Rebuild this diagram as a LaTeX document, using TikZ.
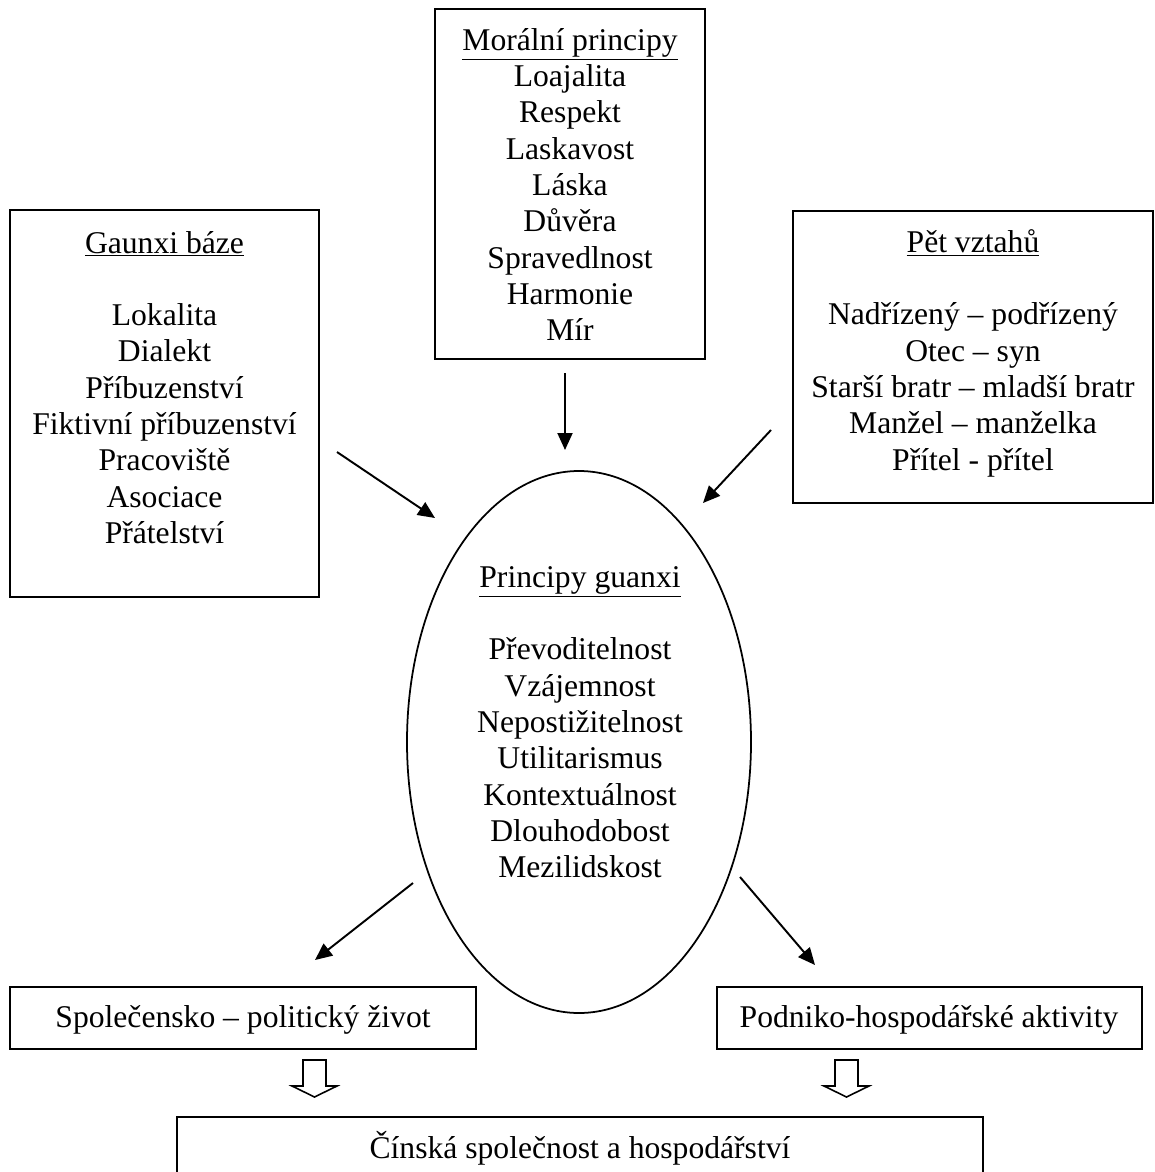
\documentclass[tikz,border=0pt]{standalone}
\usepackage{fontspec}
\setmainfont{Liberation Serif}
\usetikzlibrary{shapes.geometric, arrows.meta, positioning, fit}

\begin{document}
\begin{tikzpicture}[x=0.2mm, y=-0.2mm,
    box/.style={draw, line width=1.1pt, inner sep=0pt},
    txt/.style={font=\fontsize{18}{20.65}\selectfont, align=center, inner sep=0pt},
    link/.style={line width=1.1pt, -{Triangle[length=3.4mm, width=3mm]}},
    hollow/.style={draw, line width=0.9pt, line join=miter, fill=white}]

    \useasboundingbox (0,0) rectangle (1155,1172);

    % Boxes
    \node[box, fit={(10,210) (319,597)}] (gaunxi) {};
    \node[box, fit={(435,9) (705,359)}] (moral) {};
    \node[box, fit={(793,211) (1153,503)}] (vztahy) {};
    \node[box, ellipse, line width=1pt, minimum width=68.8mm, minimum height=108.4mm] (guanxi) at (579,742) {};
    \node[box, fit={(10,987) (476,1049)}] (spol) {};
    \node[box, fit={(717,987) (1142,1049)}] (podnik) {};
    \node[box, fit={(177,1117) (983,1200)}] (cina) {};

    % Texts
    \node[txt, anchor=north] (gaunxi-t) at (164.5,227.3)
        {\underline{Gaunxi báze}\strut\\[20.65pt]
         Lokalita\\ Dialekt\\ Příbuzenství\\ Fiktivní příbuzenství\\
         Pracoviště\\ Asociace\\ Přátelství};
    \node[txt, anchor=north] (moral-t) at (570,24.6)
        {\underline{Morální principy}\strut\\
         Loajalita\\ Respekt\\ Laskavost\\ Láska\\ Důvěra\\
         Spravedlnost\\ Harmonie\\ Mír};
    \node[txt, anchor=north] (vztahy-t) at (973,226.6)
        {\underline{Pět vztahů}\strut\\[20.65pt]
         Nadřízený – podřízený\\ Otec – syn\\ Starší bratr – mladší bratr\\
         Manžel – manželka\\ Přítel - přítel};
    \node[txt, anchor=north] (guanxi-t) at (580,561.6)
        {\underline{Principy guanxi}\strut\\[20.65pt]
         Převoditelnost\\ Vzájemnost\\ Nepostižitelnost\\ Utilitarismus\\
         Kontextuálnost\\ Dlouhodobost\\ Mezilidskost};
    \node[txt, anchor=base] (spol-t) at (243,1027) {Společensko – politický život};
    \node[txt, anchor=base] (podnik-t) at (929,1027) {Podniko-hospodářské aktivity};
    \node[txt, anchor=base] (cina-t) at (580,1158) {Čínská společnost a hospodářství};

    % Arrow ends
    \coordinate (gaunxi-out) at (337,452);
    \coordinate (guanxi-in1) at (435,518);
    \coordinate (moral-out) at (565,373);
    \coordinate (guanxi-in2) at (565,450);
    \coordinate (vztahy-out) at (771,430);
    \coordinate (guanxi-in3) at (703,503);
    \coordinate (guanxi-out1) at (413,883);
    \coordinate (spol-in) at (315,960);
    \coordinate (guanxi-out2) at (740,877);
    \coordinate (podnik-in) at (815,965);
    \coordinate (spol-dn) at (314.5,1060);
    \coordinate (podnik-dn) at (846.5,1060);

    % Arrows
    \draw[link] (gaunxi-out) -- (guanxi-in1);
    \draw[link] (moral-out) -- (guanxi-in2);
    \draw[link] (vztahy-out) -- (guanxi-in3);
    \draw[link] (guanxi-out1) -- (spol-in);
    \draw[link] (guanxi-out2) -- (podnik-in);

    % Hollow arrows
    \draw[hollow] (spol-dn) -- ++(11.5,0) -- ++(0,26) -- ++(11,0) -- ++(-22.5,11)
        -- ++(-22.5,-11) -- ++(11,0) -- ++(0,-26) -- cycle;
    \draw[hollow] (podnik-dn) -- ++(11.5,0) -- ++(0,26) -- ++(11,0) -- ++(-22.5,11)
        -- ++(-22.5,-11) -- ++(11,0) -- ++(0,-26) -- cycle;
\end{tikzpicture}
\end{document}
